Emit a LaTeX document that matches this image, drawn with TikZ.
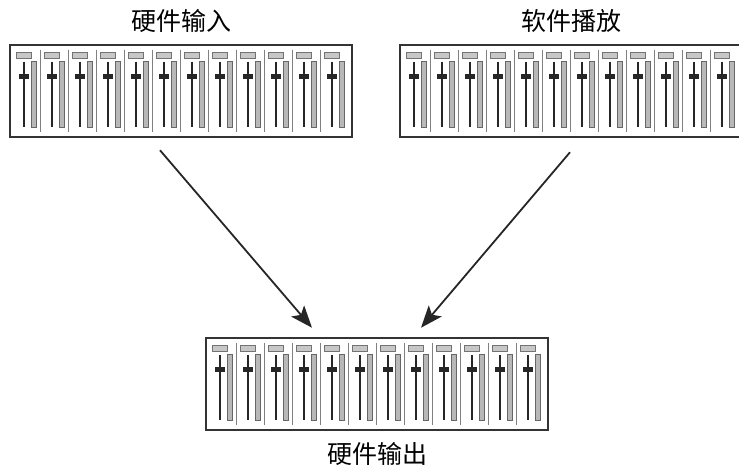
\documentclass[tikz,border=0pt]{standalone}
\usepackage{fontspec}
\newfontfamily\cjk{Noto Sans CJK SC}
\usepackage{xcolor}
\usepackage{tikz}
\usetikzlibrary{positioning,arrows.meta}

\begin{document}
\begin{tikzpicture}[x=1pt, y=-1pt, node distance=10pt and 10pt,
    mixer/.style={draw=black!80, line width=2.5pt, minimum width=342pt, minimum height=92pt, inner sep=0pt},
    caption/.style={font=\cjk\fontsize{25}{30}\selectfont, inner sep=1pt},
    flow/.style={draw=black!85, line width=1.8pt, -{Stealth[length=22pt,width=17pt,inset=5pt]}}]
\useasboundingbox (0,0) rectangle (739,468);

\node[mixer] (hwin) at (181,91) {};
\node[mixer] (swplay) at (571,91) {};
\node[mixer] (hwout) at (377,384) {};

\node[caption, above=of hwin] (hwin_title) {硬件输入};
\node[caption, above=of swplay] (swplay_title) {软件播放};
\node[caption, below=of hwout] (hwout_title) {硬件输出};

% channel strips
\foreach \m in {hwin,swplay,hwout}{
  \begin{scope}[shift={(\m.north west)}]
  \foreach \i in {0,...,11}{
    \pgfmathsetmacro\c{4+28*\i}
    \ifnum\i>0
      \draw[black!50, line width=0.8pt] (\c,6) -- (\c,88);
    \fi
    \draw[fill=black!22, draw=black!55, line width=0.8pt] ({\c+4},9) rectangle ({\c+19},15);
    \draw[black!85, line width=2.2pt] ({\c+11.5},18) -- ({\c+11.5},83);
    \fill[black!85] ({\c+6.5},30.5) rectangle ({\c+16.5},35.5);
    \draw[fill=black!28, draw=black!60, line width=0.8pt] ({\c+18.5},18) rectangle ({\c+23.5},84);
  }
  \end{scope}
}

\draw[flow] ([xshift=-21pt,yshift=-12pt]hwin.south) -- ([xshift=-65pt,yshift=9pt]hwout.north);
\draw[flow] ([xshift=-1pt,yshift=-14pt]swplay.south) -- ([xshift=44pt,yshift=9pt]hwout.north);

\end{tikzpicture}
\end{document}
